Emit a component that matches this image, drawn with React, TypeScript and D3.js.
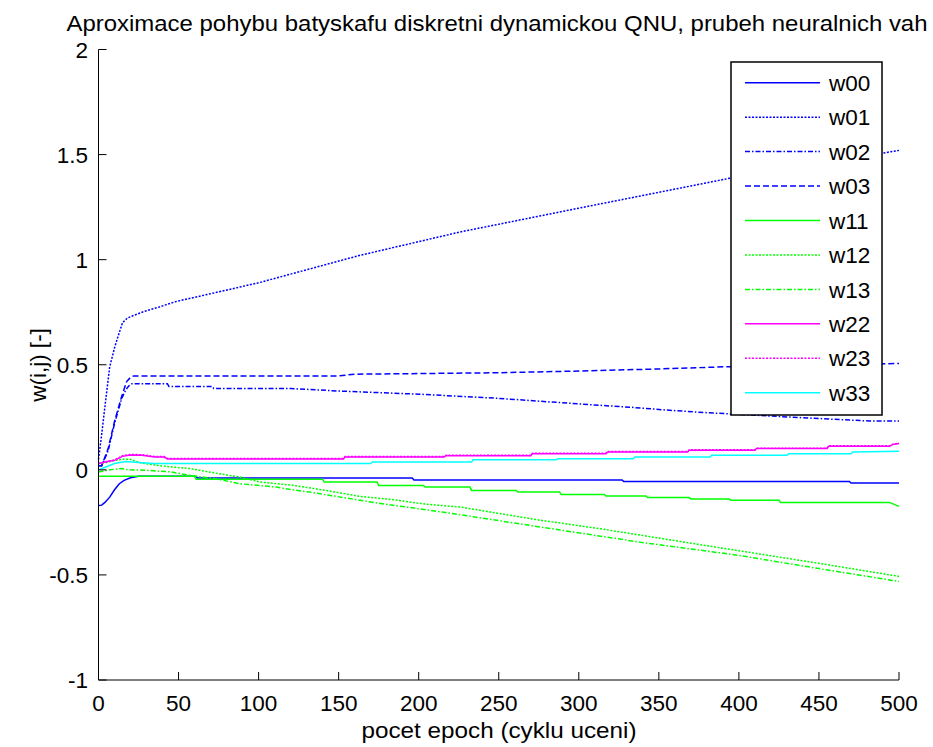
import * as d3 from 'd3';
import React from 'react';

// epochs / weight values (pairs: [epoch, value])
const w00 = [[0,-0.17],[2,-0.168],[4,-0.155],[7,-0.13],[10,-0.095],[13,-0.066],[16,-0.05],[20,-0.038],[25,-0.031],[60,-0.031],[62,-0.039],[196,-0.039],[197,-0.048],[327,-0.048],[328,-0.055],[469,-0.055],[470,-0.063],[500,-0.063]];
const w01 = [[0,0.05],[2,0.17],[4,0.3],[7,0.49],[10,0.58],[12,0.63],[15,0.7],[18,0.722],[22,0.735],[29,0.755],[38,0.775],[48,0.8],[100,0.89],[163,1.02],[226,1.132],[300,1.245],[394,1.387],[450,1.455],[500,1.52]];
const w02 = [[0,0.02],[2,0.02],[6,0.09],[10,0.22],[14.5,0.34],[17,0.38],[19,0.4],[21,0.41],[43,0.41],[44,0.397],[71,0.397],[72,0.387],[120,0.387],[150,0.375],[200,0.36],[250,0.34],[313,0.307],[332,0.298],[354,0.285],[375,0.274],[437,0.249],[482,0.232],[500,0.232]];
const w03 = [[0,0.02],[2,0.02],[6,0.1],[10,0.23],[14.5,0.35],[17.6,0.42],[20,0.44],[22,0.447],[150,0.447],[160,0.455],[250,0.462],[300,0.47],[350,0.48],[390,0.49],[440,0.497],[500,0.506]];
const w11 = [[0,-0.03],[60,-0.03],[61,-0.045],[140,-0.045],[141,-0.058],[174,-0.058],[175,-0.074],[203,-0.074],[204,-0.082],[232,-0.082],[233,-0.098],[261,-0.098],[262,-0.106],[288,-0.106],[289,-0.117],[316,-0.117],[317,-0.125],[342,-0.125],[343,-0.132],[369,-0.132],[370,-0.139],[394,-0.139],[395,-0.145],[425,-0.145],[426,-0.155],[494,-0.155],[500,-0.174]];
const w12 = [[0,0.03],[5,0.035],[10,0.045],[15,0.05],[20,0.05],[25,0.035],[29,0.03],[40,0.018],[57,0.006],[75,-0.018],[88,-0.034],[101,-0.058],[122,-0.074],[142,-0.098],[163,-0.126],[184,-0.142],[205,-0.164],[226,-0.177],[276,-0.24],[313,-0.28],[338,-0.31],[375,-0.355],[400,-0.385],[450,-0.445],[500,-0.507]];
const w13 = [[0,-0.01],[7,0.0],[14,0.006],[19,0.0],[30,-0.002],[45,-0.01],[57,-0.026],[73,-0.042],[88,-0.066],[111,-0.082],[120,-0.094],[132,-0.106],[174,-0.158],[215,-0.201],[276,-0.272],[338,-0.344],[400,-0.407],[450,-0.47],[500,-0.531]];
const w22 = [[0,0.03],[5,0.038],[10,0.045],[15,0.064],[20,0.07],[27,0.069],[35,0.061],[41,0.061],[43,0.052],[153,0.052],[154,0.061],[216,0.061],[217,0.067],[270,0.067],[271,0.077],[317,0.077],[318,0.085],[368,0.085],[369,0.093],[410,0.093],[411,0.101],[455,0.101],[456,0.112],[494,0.112],[496,0.12],[500,0.125]];
const w23 = [[0,0.03],[5,0.04],[10,0.047],[15,0.067],[20,0.073],[27,0.072],[35,0.063],[41,0.063],[43,0.054],[153,0.054],[154,0.063],[216,0.063],[217,0.069],[270,0.069],[271,0.079],[317,0.079],[318,0.087],[368,0.087],[369,0.095],[410,0.095],[411,0.103],[455,0.103],[456,0.114],[494,0.114],[496,0.122],[500,0.127]];
const w33 = [[0,0.0],[5,0.015],[10,0.03],[17,0.04],[25,0.035],[35,0.03],[170,0.03],[171,0.037],[233,0.037],[234,0.048],[286,0.048],[287,0.053],[334,0.053],[335,0.061],[382,0.061],[383,0.069],[430,0.069],[431,0.076],[470,0.076],[471,0.085],[500,0.088]];

const seriesNames = ['w00','w01','w02','w03','w11','w12','w13','w22','w23','w33'];
const seriesData = [w00, w01, w02, w03, w11, w12, w13, w22, w23, w33];
const seriesColors = ['#0000ff','#0000ff','#0000ff','#0000ff','#00ff00','#00ff00','#00ff00','#ff00ff','#ff00ff','#00ffff'];
const seriesStyles = ['-', ':', '-.', '--', '-', ':', '-.', '-', ':', '-'];

const xTicks = [0,50,100,150,200,250,300,350,400,450,500];
const yTicks = [-1,-0.5,0,0.5,1,1.5,2];

const dash = { '-': null, ':': '2,1.5', '-.': '5,2,1.5,2', '--': '6,3' };

const FONT = 'Liberation Sans, Arial, sans-serif';

export default function App() {
  const W = 933, H = 747;
  const x = d3.scaleLinear().domain([0, 500]).range([98.5, 899]);
  const y = d3.scaleLinear().domain([-1, 2]).range([680, 49.5]);
  const line = d3.line<number[]>().x(d => x(d[0])).y(d => y(d[1]));

  const fs = 22.5;
  const legX = 731, legY = 62, legW = 151, legH = 353;
  const rowH = 34.45;

  return (
    <svg width={W} height={H} style={{ position: 'absolute', left: 0, top: 0, background: '#fff' }}
      fontFamily={FONT}>
      <rect x={0} y={0} width={W} height={H} fill="#fff" />
      {/* data lines */}
      {seriesData.map((s, i) => (
        <path key={seriesNames[i]} d={line(s) || ''} fill="none" stroke={seriesColors[i]}
          strokeWidth={1.5} strokeDasharray={dash[seriesStyles[i]] || undefined} />
      ))}
      {/* axes */}
      <line x1={x(0)} x2={x(0)} y1={y(2)} y2={y(-1)} stroke="#000" strokeWidth={1} />
      <line x1={x(0)} x2={x(500)} y1={y(-1)} y2={y(-1)} stroke="#000" strokeWidth={1} />
      {xTicks.map(t => (
        <g key={'x' + t}>
          <line x1={x(t)} x2={x(t)} y1={y(-1)} y2={y(-1) - 8} stroke="#000" />
          <text x={x(t)} y={711} fontSize={fs} textAnchor="middle">{t}</text>
        </g>
      ))}
      {yTicks.map(t => (
        <g key={'y' + t}>
          <line x1={x(0)} x2={x(0) + 8} y1={y(t)} y2={y(t)} stroke="#000" />
          <text x={88} y={y(t)} dy="0.36em" fontSize={fs} textAnchor="end">{t}</text>
        </g>
      ))}
      {/* labels */}
      <text x={497} y={31} fontSize={fs} textAnchor="middle" textLength={861} lengthAdjust="spacingAndGlyphs">Aproximace pohybu batyskafu diskretni dynamickou QNU, prubeh neuralnich vah</text>
      <text x={499} y={738} fontSize={fs} textAnchor="middle" textLength={275} lengthAdjust="spacingAndGlyphs">pocet epoch (cyklu uceni)</text>
      <text transform={`translate(46,365) rotate(-90)`} fontSize={fs} textAnchor="middle">w(i,j) [-]</text>
      {/* legend */}
      <rect x={legX} y={legY} width={legW} height={legH} fill="#fff" stroke="#000" strokeWidth={1.5} />
      {seriesNames.map((n, i) => {
        const ly = 82.7 + i * rowH;
        return (
          <g key={'leg' + n}>
            <line x1={745} x2={820} y1={ly} y2={ly} stroke={seriesColors[i]} strokeWidth={1.5}
              strokeDasharray={dash[seriesStyles[i]] || undefined} />
            <text x={829} y={ly} dy="0.36em" fontSize={fs}>{n}</text>
          </g>
        );
      })}
    </svg>
  );
}
